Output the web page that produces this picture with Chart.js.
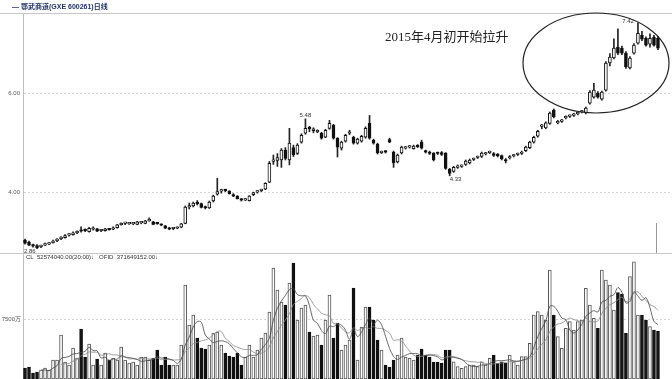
<!DOCTYPE html>
<html>
<head>
<meta charset="utf-8">
<script src="https://cdn.jsdelivr.net/npm/chart.js@4/dist/chart.umd.min.js"></script>
<style>
html,body{margin:0;padding:0;background:#fff;}
#wrap{position:relative;width:672px;height:379px;overflow:hidden;}
#price{position:absolute;left:0;top:0;}
#vol{position:absolute;left:0;top:253px;}
</style>
</head>
<body>
<div id="wrap">
<canvas id="price" width="672" height="253"></canvas>
<canvas id="vol" width="672" height="126"></canvas>
</div>
<script>
// ---- data ----
const titleText = "— 鄂武商道(GXE 600261)日线";
const noteText = "2015年4月初开始拉升";
const volHeader = "CL  52574040.00(20:00)↓   OFID  371649152.00↓";
const priceTicks = [4, 6];
const volTicks = [7500];

const opens = [3.03,2.99,2.92,2.92,2.90,2.93,2.95,2.98,3.02,3.06,3.08,3.13,3.14,3.18,3.23,3.24,3.20,3.25,3.26,3.22,
3.22,3.25,3.25,3.28,3.34,3.37,3.36,3.36,3.35,3.38,3.37,3.42,3.40,3.37,3.34,3.32,3.27,3.26,3.27,3.29,
3.37,3.70,3.72,3.80,3.77,3.70,3.68,3.82,3.96,4.02,4.04,4.02,3.95,3.92,3.85,3.84,3.83,3.95,4.00,4.03,
4.06,4.20,4.62,4.64,4.65,4.85,4.65,4.90,4.78,5.01,5.19,5.30,5.24,5.22,5.19,5.11,5.29,5.35,5.09,4.89,
5.03,5.19,5.11,4.99,5.03,5.11,5.39,5.05,4.97,4.80,4.82,5.06,4.81,4.61,4.79,4.89,4.91,4.88,4.93,5.01,
4.83,4.81,4.79,4.79,4.80,4.79,4.46,4.42,4.50,4.52,4.56,4.59,4.66,4.70,4.72,4.77,4.80,4.78,4.77,4.74,
4.64,4.69,4.73,4.76,4.78,4.84,4.90,5.01,5.13,5.33,5.30,5.39,5.66,5.40,5.43,5.50,5.53,5.55,5.58,5.62,
5.60,5.80,5.92,6.00,5.88,6.06,6.61,6.71,6.93,6.91,6.81,6.51,6.81,7.01,7.17,7.11,6.99,7.13,7.11];
const highs = [3.05,3.01,2.95,2.94,2.93,2.97,2.98,3.03,3.06,3.10,3.14,3.16,3.20,3.22,3.30,3.26,3.29,3.30,3.27,3.25,
3.27,3.27,3.30,3.35,3.38,3.39,3.38,3.39,3.41,3.40,3.43,3.48,3.41,3.39,3.36,3.33,3.29,3.28,3.30,3.37,
3.72,3.78,3.80,3.83,3.78,3.72,3.82,3.94,4.28,4.06,4.06,4.03,3.97,3.93,3.87,3.87,3.93,4.00,4.03,4.06,
4.19,4.62,4.75,4.78,4.88,4.90,5.29,4.95,4.98,5.18,5.48,5.33,5.30,5.26,5.21,5.27,5.45,5.37,5.10,5.03,
5.17,5.25,5.13,5.09,5.15,5.32,5.55,5.07,4.99,4.83,4.84,5.09,4.83,4.77,4.93,4.92,4.94,4.95,4.96,5.05,
4.85,4.83,4.80,4.81,4.82,4.80,4.48,4.52,4.55,4.55,4.65,4.67,4.69,4.73,4.81,4.80,4.83,4.80,4.78,4.75,
4.68,4.74,4.76,4.79,4.83,4.93,5.03,5.13,5.25,5.37,5.42,5.62,5.68,5.45,5.47,5.54,5.56,5.59,5.62,5.65,
5.72,6.05,6.20,6.03,6.04,6.64,6.80,7.10,7.30,6.95,6.84,6.74,7.00,7.42,7.25,7.14,7.20,7.17,7.15];
const lows = [2.95,2.92,2.89,2.86,2.88,2.92,2.94,2.97,3.00,3.04,3.07,3.11,3.13,3.16,3.19,3.20,3.19,3.23,3.20,3.20,
3.21,3.23,3.24,3.27,3.33,3.34,3.35,3.34,3.34,3.36,3.36,3.41,3.34,3.35,3.32,3.26,3.24,3.24,3.26,3.28,
3.36,3.66,3.70,3.74,3.68,3.66,3.67,3.80,3.94,3.98,4.01,3.96,3.91,3.86,3.82,3.83,3.82,3.93,3.98,4.01,
4.05,4.19,4.56,4.52,4.50,4.65,4.55,4.72,4.76,4.99,5.17,5.22,5.20,5.20,5.07,5.10,5.27,5.07,4.71,4.85,
5.01,5.16,4.97,4.97,5.01,5.09,5.07,4.97,4.77,4.78,4.79,5.00,4.50,4.59,4.77,4.87,4.89,4.87,4.90,4.87,
4.79,4.76,4.63,4.76,4.74,4.46,4.33,4.40,4.48,4.50,4.54,4.57,4.64,4.68,4.70,4.75,4.78,4.72,4.71,4.65,
4.59,4.67,4.71,4.74,4.76,4.82,4.88,4.99,5.11,5.28,5.28,5.37,5.50,5.38,5.41,5.48,5.51,5.53,5.56,5.60,
5.58,5.78,5.90,5.90,5.86,6.04,6.55,6.69,6.78,6.78,6.50,6.49,6.79,6.99,7.06,6.95,6.93,6.95,6.88];
const closes = [2.97,2.93,2.91,2.88,2.91,2.95,2.97,3.01,3.05,3.09,3.12,3.14,3.18,3.20,3.21,3.22,3.27,3.25,3.21,3.23,
3.26,3.24,3.28,3.34,3.36,3.38,3.37,3.38,3.40,3.39,3.42,3.45,3.35,3.36,3.33,3.27,3.25,3.27,3.28,3.36,
3.70,3.72,3.78,3.76,3.69,3.68,3.80,3.92,4.01,4.04,4.03,3.97,3.92,3.87,3.84,3.85,3.92,3.99,4.01,4.05,
4.18,4.58,4.65,4.70,4.85,4.68,4.99,4.75,4.95,5.15,5.29,5.28,5.28,5.24,5.09,5.25,5.39,5.09,4.91,5.01,
5.15,5.21,4.99,5.07,5.13,5.29,5.09,4.99,4.79,4.81,4.81,5.01,4.59,4.75,4.91,4.90,4.93,4.93,4.92,4.89,
4.81,4.78,4.65,4.78,4.76,4.48,4.38,4.50,4.53,4.53,4.63,4.65,4.67,4.71,4.79,4.78,4.81,4.74,4.73,4.67,
4.63,4.72,4.74,4.77,4.81,4.91,5.01,5.11,5.23,5.35,5.40,5.60,5.52,5.42,5.45,5.52,5.54,5.57,5.60,5.63,
5.70,6.02,6.06,5.92,6.02,6.61,6.73,6.91,6.81,6.81,6.53,6.71,6.97,7.21,7.09,6.97,7.11,6.97,6.91];
// volume in 万 (10k shares)
const volumes = [1375,1500,750,875,1125,1375,1125,2375,2375,5500,2125,1750,3875,2625,6250,2750,4375,1750,2500,1750,
3250,2375,2625,2375,4000,2375,2000,2125,1750,2750,2750,2375,2625,3625,1750,2750,1750,1750,1750,4250,
11750,6750,8000,5125,3875,3750,4250,5750,5875,4250,3250,2875,2750,3250,1750,2750,4250,2750,3625,5125,
5750,8375,13875,11125,9625,9250,12000,14500,7375,8875,9250,5875,5375,5500,4250,7375,10500,5125,7000,3625,
4250,4875,11375,2375,6500,9000,9000,7375,4875,3625,1750,1500,2375,3000,5125,2750,2625,2375,3000,3750,
3000,2750,2125,2125,2000,3625,3625,2150,1540,1330,1540,1750,1750,1540,2150,1750,2580,3000,1960,2150,
1960,3000,2150,1750,2790,2790,4460,8000,8420,8000,7375,13625,8000,5290,3830,6330,7170,6125,7170,7375,
11330,9250,7580,6330,13625,12375,11750,8625,10790,10625,5710,12790,14660,8000,8000,7375,6540,6125,6000];
// labelled extremes: candle index, value text, side
const extremeIdx = [153, 70, 106, 3];
const extremeText = ["7.42", "5.48", "4.33", "2.86"];
const extremeSide = ["left", "high", "low", "start"];

// ---- derived ----
const N = opens.length;
const isUp = opens.map((o,i)=>closes[i] >= o);
function movingAvg(arr, n){
  return arr.map((_,i)=> i < n-1 ? null : arr.slice(i-n+1,i+1).reduce((a,b)=>a+b,0)/n);
}
const ma5 = movingAvg(volumes.slice(0,N), 5);
const ma10 = movingAvg(volumes.slice(0,N), 10);

const uiFont = "'Liberation Sans', 'Noto Sans CJK SC', sans-serif";

const priceDeco = {
  id:'priceDeco',
  afterDraw(chart){
    const {ctx, scales:{x,y}} = chart;
    ctx.save();
    ctx.strokeStyle = '#c8c8c8'; ctx.lineWidth = 1;
    ctx.beginPath(); ctx.moveTo(0,13.5); ctx.lineTo(672,13.5); ctx.stroke();
    ctx.fillStyle = '#223366';
    ctx.font = "bold 7px " + uiFont;
    ctx.textBaseline = 'middle'; ctx.textAlign = 'left';
    ctx.fillText(titleText, 12, 7);
    ctx.fillStyle = '#222';
    ctx.font = "13px 'Liberation Serif', 'Noto Sans CJK SC', serif";
    ctx.fillText(noteText, 385, 38);
    ctx.strokeStyle = '#222'; ctx.lineWidth = 1.2;
    ctx.beginPath(); ctx.ellipse(596, 63, 73, 50, 0, 0, Math.PI*2); ctx.stroke();
    ctx.fillStyle = '#333';
    ctx.font = "6px " + uiFont;
    extremeIdx.forEach((idx,k)=>{
      const px = x.getPixelForValue(idx);
      const side = extremeSide[k];
      if (side === 'left'){
        ctx.textAlign = 'right';
        ctx.fillText(extremeText[k], px-4, y.getPixelForValue(highs[idx]) - 2);
      } else if (side === 'high'){
        ctx.textAlign = 'center';
        ctx.fillText(extremeText[k], px, y.getPixelForValue(highs[idx]) - 4);
      } else if (side === 'low'){
        ctx.textAlign = 'left';
        ctx.fillText(extremeText[k], px, y.getPixelForValue(lows[idx]) + 4);
      } else {
        ctx.textAlign = 'left';
        ctx.fillText(extremeText[k], x.getPixelForValue(0)-1, y.getPixelForValue(lows[idx]) + 3);
      }
    });
    const mx = Math.round(x.getPixelForValue(157.5)) + 0.5;
    ctx.strokeStyle = '#999'; ctx.lineWidth = 1;
    ctx.beginPath(); ctx.moveTo(mx, 223); ctx.lineTo(mx, 253); ctx.stroke();
    ctx.restore();
  }
};

const volDeco = {
  id:'volDeco',
  afterDraw(chart){
    const {ctx} = chart;
    ctx.save();
    ctx.strokeStyle = '#c8c8c8'; ctx.lineWidth = 1;
    ctx.beginPath(); ctx.moveTo(0,0.5); ctx.lineTo(672,0.5); ctx.stroke();
    ctx.fillStyle = '#333';
    ctx.font = "6px " + uiFont;
    ctx.textBaseline = 'middle'; ctx.textAlign = 'left';
    ctx.fillText(volHeader, 26, 4.5);
    ctx.restore();
  }
};

const xScale = {type:'linear', min:-0.5, max:161.5, offset:false, display:false};
function fixAxis(s){ s.width = 23; s.paddingTop = 0; s.paddingBottom = 0; }

new Chart(document.getElementById('price'), {
  type:'bar',
  data:{
    datasets:[
      {label:'body', data: opens.map((o,i)=>({x:i, y:[o, closes[i]]})),
       backgroundColor: isUp.map(u=>u ? '#ffffff' : '#111111'),
       borderColor:'#111', borderWidth:1, borderSkipped:false,
       barThickness:3, minBarLength:1.5, grouped:false, order:1},
      {label:'wick', data: lows.map((l,i)=>({x:i, y:[l, highs[i]]})),
       backgroundColor:'#222', borderWidth:0, barThickness:1, grouped:false, order:2}
    ]
  },
  options:{
    responsive:false, animation:false, maintainAspectRatio:false,
    layout:{padding:{top:13, right:0, left:0, bottom:0}},
    plugins:{legend:{display:false}, tooltip:{enabled:false}},
    scales:{
      x: xScale,
      y:{min:2.77, max:7.62,
         afterFit: fixAxis,
         afterBuildTicks(s){ s.ticks = priceTicks.map(v=>({value:v})); },
         ticks:{font:{size:6, family:uiFont}, color:'#555', padding:3, callback:v=>Number(v).toFixed(2)},
         grid:{color:'#d5d5d5', drawTicks:false},
         border:{color:'#c0c0c0', dash:[2,2]}}
    }
  },
  plugins:[priceDeco]
});

new Chart(document.getElementById('vol'), {
  type:'bar',
  data:{
    datasets:[
      {type:'line', label:'MA5', data: ma5.map((v,i)=>({x:i, y:v})), borderColor:'#444', borderWidth:0.8,
       pointRadius:0, tension:0.35, spanGaps:false, order:0},
      {type:'line', label:'MA10', data: ma10.map((v,i)=>({x:i, y:v})), borderColor:'#888', borderWidth:0.8,
       pointRadius:0, tension:0.35, spanGaps:false, order:0},
      {label:'VOL', data: volumes.slice(0,N).map((v,i)=>({x:i, y:v})),
       backgroundColor: isUp.map(u=>u ? '#ffffff' : '#111111'),
       borderColor: isUp.map(u=>u ? '#555' : '#111'), borderWidth:1, borderSkipped:false,
       barThickness:3, grouped:false, order:1}
    ]
  },
  options:{
    responsive:false, animation:false, maintainAspectRatio:false,
    layout:{padding:0},
    plugins:{legend:{display:false}, tooltip:{enabled:false}},
    scales:{
      x: xScale,
      y:{min:0, max:15750,
         afterFit: fixAxis,
         afterBuildTicks(s){ s.ticks = volTicks.map(v=>({value:v})); },
         ticks:{font:{size:6, family:uiFont}, color:'#555', padding:2, callback:v=>v + '万'},
         grid:{color:'#d5d5d5', drawTicks:false},
         border:{color:'#c0c0c0', dash:[2,2]}}
    }
  },
  plugins:[volDeco]
});
</script>
</body>
</html>
